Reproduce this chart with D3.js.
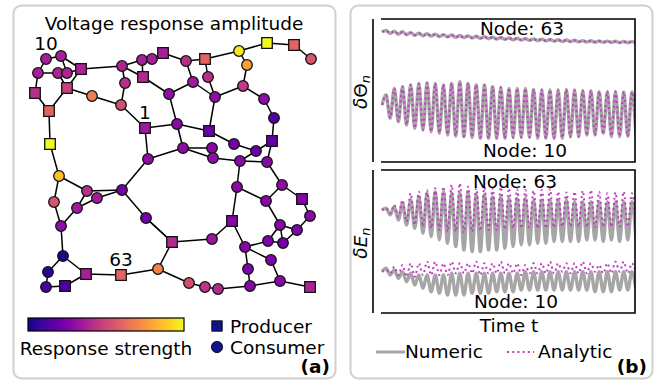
<!DOCTYPE html>
<html>
<head>
<meta charset="utf-8">
<script src="https://cdn.jsdelivr.net/npm/d3@7/dist/d3.min.js"></script>
<style>
  html, body { margin: 0; padding: 0; background: #fff; }
  svg { display: block; font-family: "DejaVu Sans", sans-serif; }
</style>
</head>
<body>
<svg id="fig" width="665" height="382"></svg>
<script>
// ---------- (a) grid network ----------
const nodeIds = ["10","b","c","d","e","f","g","h","i","j","k","l","m","n","o","p","q","r","s","1",
  "t","u","v","w","x","y","z","aa","ab","ac","ad","ae","af","ag","ah","ai","aj","ak","al","am",
  "an","ao","ap","aq","ar","as","at","au","av","aw","ax","ay","az","ba","bb","bc","bd","be","bf","bg",
  "bh","bi","bj","bk","bl","bm","bn","63","bo","bp","bq","br","bs","bt","bu","bv","bw","bx","by","bz"];
const nodeX = [46,61,38,58,67,81,35,67,92,49,50,59,122,142,152,163,143,125,121,145,
  186,205,208,193,169,215,239,267,294,311,247,243,264,274,272,177,209,234,256,183,
  212,213,240,267,148,237,282,266,302,310,232,280,297,268,283,271,245,248,250,280,
  310,212,172,158,189,205,218,121,86,65,46,48,63,61,77,54,87,97,122,146];
const nodeY = [59,56,73,73,73,69,93,88,96,111,144,176,66,60,59,53,77,83,105,128,
  61,59,77,82,94,97,51,43,45,59,65,86,99,118,141,124,131,144,151,148,
  148,158,161,162,159,187,185,201,199,216,221,225,230,241,243,260,247,269,286,281,
  287,239,242,269,283,287,289,275,274,286,287,272,256,226,208,202,191,198,190,218];
// P = producer (square), C = consumer (circle)
const nodeKind = ["C","C","C","C","C","P","P","P","C","P","P","C","C","C","C","P","P","C","C","P",
  "C","P","C","C","C","C","C","P","P","C","C","C","C","C","P","C","P","C","C","C",
  "C","C","C","C","C","C","C","C","P","C","P","C","C","C","C","C","C","C","C","C",
  "P","C","P","C","C","C","C","P","P","P","C","C","C","C","C","C","C","C","C","C"];
const nodeResponse = [0.36,0.36,0.36,0.38,0.38,0.38,0.42,0.48,0.68,0.60,1.00,0.86,0.38,0.36,0.36,0.36,0.40,0.42,0.53,0.34,
  0.42,0.60,0.42,0.34,0.30,0.30,0.96,1.00,0.60,0.55,0.78,0.45,0.30,0.14,0.18,0.28,0.20,0.22,0.20,0.30,
  0.28,0.30,0.28,0.28,0.30,0.28,0.30,0.28,0.26,0.28,0.28,0.27,0.25,0.25,0.22,0.25,0.27,0.25,0.27,0.28,
  0.38,0.33,0.40,0.70,0.53,0.44,0.40,0.60,0.36,0.12,0.10,0.05,0.02,0.30,0.34,0.55,0.42,0.35,0.22,0.22];
const labelledNodes = ["10","1","63"];
const lines = [
  ["10","b"],["10","c"],["b","f"],["b","e"],["c","d"],["d","e"],["e","f"],["c","g"],["d","h"],["f","h"],
  ["g","j"],["h","j"],["h","i"],["f","m"],["j","k"],["k","l"],
  ["m","n"],["m","q"],["m","r"],["n","o"],["n","q"],["o","p"],["p","t"],["t","u"],["r","s"],["i","s"],
  ["s","1"],["q","x"],["t","w"],["w","x"],["w","y"],["u","v"],["v","y"],["u","z"],["z","aa"],["aa","ab"],
  ["ab","ac"],["z","ad"],["ad","ae"],["ae","y"],["ae","af"],["af","ag"],["ag","ah"],
  ["1","ai"],["1","ar"],["x","ai"],["ai","aj"],["ai","am"],["y","aj"],["aj","ak"],["ak","al"],["al","ah"],
  ["ah","aq"],["al","ap"],["am","an"],["am","ao"],["an","ao"],["ao","ap"],["ap","aq"],["ar","am"],
  ["ap","as"],["aq","at"],["as","au"],["at","au"],["at","av"],["av","aw"],["aw","az"],["au","ay"],
  ["ay","az"],["ay","ba"],["ay","bb"],["az","bb"],["ba","bb"],["as","ax"],["ax","bi"],["ax","bd"],
  ["bd","ba"],["bd","bc"],["bc","bg"],["bd","be"],["be","bf"],["bf","bg"],["bg","bh"],["bf","bn"],
  ["bi","bj"],["bj","bk"],["bj","bz"],["bk","bl"],["bl","bm"],["bm","bn"],["bk","63"],["63","bo"],
  ["bo","bp"],["bp","bq"],["bq","br"],["br","bs"],["bs","bo"],["bs","bt"],["bt","bv"],["bv","l"],
  ["bt","bu"],["bu","bw"],["bu","bx"],["bw","l"],["bw","by"],["bx","by"],["by","ar"],["by","bz"],["bz","bj"]
];

// ---------- (b) time series: start value, then alternating maxima / minima ----------
const seriesStart = { theta63: 8.20, theta10: -2.03, e63: 4.41, e10: -4.22 };

const theta63NumTops = [8.40,8.30,8.22,8.10,8.02,7.95,7.88,7.82,7.76,7.70,7.64,7.58,7.52,7.47,7.42,7.36,7.30,7.26,7.22,7.18,7.14,7.10,7.06,7.02,6.98,6.95,6.92,6.90,6.88,6.86,6.84];
const theta63NumBottoms = [7.98,7.85,7.80,7.72,7.65,7.60,7.55,7.50,7.44,7.40,7.35,7.30,7.24,7.20,7.15,7.10,7.06,7.02,6.98,6.94,6.90,6.86,6.84,6.80,6.78,6.76,6.74,6.72,6.70,6.68,6.67];
const theta63AnaTops = [8.35,8.28,8.18,8.08,8.00,7.92,7.86,7.80,7.74,7.68,7.62,7.56,7.50,7.45,7.40,7.34,7.29,7.24,7.20,7.16,7.12,7.08,7.04,7.00,6.97,6.94,6.91,6.89,6.87,6.85,6.83];
const theta63AnaBottoms = [8.02,7.90,7.82,7.74,7.68,7.62,7.56,7.50,7.45,7.40,7.36,7.31,7.26,7.21,7.16,7.11,7.07,7.03,6.99,6.95,6.91,6.88,6.85,6.82,6.79,6.77,6.75,6.73,6.71,6.69,6.68];

const theta10NumTops = [-0.63,0.30,0.53,0.77,1.00,1.09,1.00,0.77,1.00,1.23,1.00,0.77,0.77,0.53,0.44,0.30,0.30,0.30,0.16,0.07,0.07,0.07,0.16,0.07,-0.03,-0.03,-0.16,-0.16,-0.16,-0.20,-0.20];
const theta10NumBottoms = [-3.89,-4.36,-4.83,-5.29,-5.52,-5.76,-5.99,-6.22,-6.36,-6.46,-6.55,-6.69,-6.69,-6.69,-6.69,-6.55,-6.55,-6.55,-6.69,-6.69,-6.69,-6.69,-6.46,-6.46,-6.22,-6.22,-5.99,-6.46,-6.46,-6.40,-6.40];
const theta10AnaTops = [-0.70,0.25,0.55,0.80,0.95,1.05,1.00,0.85,0.95,1.15,1.00,0.80,0.75,0.55,0.45,0.35,0.30,0.28,0.18,0.10,0.08,0.08,0.12,0.05,0.00,-0.05,-0.12,-0.15,-0.15,-0.18,-0.18];
const theta10AnaBottoms = [-3.80,-4.30,-4.80,-5.25,-5.50,-5.75,-5.95,-6.15,-6.30,-6.40,-6.50,-6.60,-6.65,-6.65,-6.65,-6.60,-6.55,-6.55,-6.60,-6.65,-6.65,-6.62,-6.50,-6.45,-6.30,-6.25,-6.10,-6.35,-6.40,-6.38,-6.38];

const e63NumTops = [4.64,4.87,5.34,5.80,6.27,6.74,6.97,6.97,6.74,6.74,6.74,6.50,6.50,6.27,6.27,6.04,6.04,6.04,5.80,5.80,5.80,5.80,5.80,5.57,5.57,5.57,5.57,5.57,5.57,5.57,5.57];
const e63NumBottoms = [3.71,3.01,2.31,1.84,1.15,0.68,0.21,-0.26,-0.72,-1.19,-1.42,-1.42,-1.19,-1.19,-0.96,-0.72,-0.49,-0.49,-0.26,-0.26,-0.02,-0.02,-0.02,-0.02,0.20,0.20,-0.02,0.20,-0.02,0.20,0.20];
const e63AnaTops = [4.64,5.10,5.80,6.74,6.97,7.20,7.44,7.67,7.90,8.14,7.67,7.44,7.55,7.44,7.60,7.44,7.30,7.20,7.10,7.20,7.35,6.97,6.85,6.97,7.10,7.20,6.97,6.74,6.85,6.97,6.74];
const e63AnaBottoms = [3.94,3.47,2.77,2.31,2.07,1.84,1.61,1.37,1.37,1.25,1.37,1.50,1.61,1.61,1.70,1.84,1.84,1.95,1.84,1.84,1.95,2.07,2.07,2.07,2.00,1.95,2.07,2.07,2.07,2.07,2.07];

const e10NumTops = [-3.75,-3.99,-4.22,-4.45,-4.69,-4.69,-4.69,-4.69,-4.45,-4.45,-4.45,-4.45,-4.45,-4.45,-4.45,-4.45,-4.45,-4.22,-4.22,-4.22,-4.22,-4.22,-4.22,-4.22,-4.22,-4.22,-4.22,-4.22,-4.22,-4.22,-4.22];
const e10NumBottoms = [-4.69,-5.15,-5.62,-6.08,-6.55,-7.02,-7.25,-7.48,-7.48,-7.48,-7.25,-7.25,-7.25,-7.02,-7.02,-7.02,-6.78,-6.78,-6.78,-6.78,-6.78,-6.78,-6.78,-6.78,-6.78,-7.02,-7.02,-7.02,-6.78,-6.78,-6.78];
const e10AnaTops = [-3.99,-3.52,-3.29,-3.05,-3.05,-2.82,-2.82,-3.05,-2.82,-3.05,-3.05,-2.82,-3.05,-3.05,-2.82,-3.05,-3.05,-3.29,-3.05,-3.05,-2.82,-3.05,-3.05,-3.05,-2.82,-3.05,-3.29,-3.05,-2.82,-2.82,-3.05];
const e10AnaBottoms = [-4.45,-4.69,-4.92,-4.92,-4.69,-4.69,-4.69,-4.69,-4.45,-4.45,-4.45,-4.69,-4.45,-4.45,-4.45,-4.45,-4.69,-4.45,-4.45,-4.45,-4.45,-4.22,-4.45,-4.45,-4.45,-4.22,-4.45,-4.45,-4.22,-4.45,-4.45];

const legendLabels = ["Numeric", "Analytic"];

// ---------------------------------------------------------------
const svg = d3.select("#fig");
const FONT = 18.5;
const numericColor = "#a6a6a6";
const analyticColor = "#c03cc0";

// panel frames
[[13.5, 5.5, 322, 373], [350.5, 5.5, 302, 373]].forEach(([x, y, w, h]) => {
  svg.append("rect").attr("x", x).attr("y", y).attr("width", w).attr("height", h)
    .attr("rx", 8).attr("fill", "#fff").attr("stroke", "#cfcfcf").attr("stroke-width", 2);
});

// ---- panel (a)
const xNet = d3.scaleLinear().domain(d3.extent(nodeX)).range([35, 311]);
const yNet = d3.scaleLinear().domain(d3.extent(nodeY)).range([43, 289]);
const color = d3.scaleSequential(d3.interpolatePlasma).domain([0, 1]);
const nodes = nodeIds.map((id, i) => ({ id, x: nodeX[i], y: nodeY[i], kind: nodeKind[i], r: nodeResponse[i] }));
const byId = new Map(nodes.map(n => [n.id, n]));

svg.append("text").attr("x", 174).attr("y", 30).attr("text-anchor", "middle")
  .attr("font-size", FONT).text("Voltage response amplitude");

const gNet = svg.append("g");
gNet.selectAll("line.edge").data(lines).join("line").attr("class", "edge")
  .attr("x1", d => xNet(byId.get(d[0]).x)).attr("y1", d => yNet(byId.get(d[0]).y))
  .attr("x2", d => xNet(byId.get(d[1]).x)).attr("y2", d => yNet(byId.get(d[1]).y))
  .attr("stroke", "#000").attr("stroke-width", 1.5);

const sym = d3.symbol().type(d => d.kind === "P" ? d3.symbolSquare : d3.symbolCircle)
  .size(d => d.kind === "P" ? 112 : 88);
gNet.selectAll("path.node").data(nodes).join("path").attr("class", "node")
  .attr("transform", d => `translate(${xNet(d.x)},${yNet(d.y)})`)
  .attr("d", sym).attr("fill", d => color(d.r))
  .attr("stroke", "#111").attr("stroke-width", 1.3);

gNet.selectAll("text.nlab").data(nodes.filter(n => labelledNodes.includes(n.id))).join("text")
  .attr("class", "nlab").attr("x", d => xNet(d.x)).attr("y", d => yNet(d.y) - 9)
  .attr("text-anchor", "middle").attr("font-size", FONT).text(d => d.id);

// colour bar
const defs = svg.append("defs");
const grad = defs.append("linearGradient").attr("id", "plasmaGrad");
d3.range(0, 1.0001, 0.05).forEach(t => grad.append("stop").attr("offset", t).attr("stop-color", color(t)));
const cbar = d3.scaleLinear().domain([0, 1]).range([28, 184]);
svg.append("rect").attr("x", cbar(0)).attr("y", 318).attr("width", cbar(1) - cbar(0)).attr("height", 13)
  .attr("fill", "url(#plasmaGrad)").attr("stroke", "#000").attr("stroke-width", 1.2);
svg.append("text").attr("x", 106).attr("y", 355).attr("text-anchor", "middle")
  .attr("font-size", FONT).text("Response strength");

// marker legend
svg.append("path").attr("transform", "translate(217,326)")
  .attr("d", d3.symbol().type(d3.symbolSquare).size(110)()).attr("fill", "#12128c").attr("stroke", "#000").attr("stroke-width", 0.8);
svg.append("path").attr("transform", "translate(217,347)")
  .attr("d", d3.symbol().type(d3.symbolCircle).size(100)()).attr("fill", "#12128c").attr("stroke", "#000").attr("stroke-width", 0.8);
svg.append("text").attr("x", 230).attr("y", 333).attr("font-size", FONT).text("Producer");
svg.append("text").attr("x", 230).attr("y", 354).attr("font-size", FONT).text("Consumer");
svg.append("text").attr("x", 330).attr("y", 373).attr("text-anchor", "end")
  .attr("font-size", FONT).attr("font-weight", "bold").text("(a)");

// ---- panel (b)
const nSteps = 2 * theta63NumTops.length;
const x = d3.scaleLinear().domain([0, nSteps]).range([382, 636]);
const axesBoxes = [{ top: 19, bottom: 162 }, { top: 170, bottom: 313 }];
const yScales = axesBoxes.map(b => d3.scaleLinear().domain([-10, 10]).range([b.bottom, b.top]));

function buildSeries(start, tops, bottoms) {
  const pts = [[0, start]];
  tops.forEach((v, k) => {
    pts.push([2 * k + 1, v]);
    pts.push([2 * k + 2, bottoms[k]]);
  });
  return pts;
}

const panels = [
  { box: axesBoxes[0], y: yScales[0], series: [
      { kind: "num", pts: buildSeries(seriesStart.theta63, theta63NumTops, theta63NumBottoms) },
      { kind: "num", pts: buildSeries(seriesStart.theta10, theta10NumTops, theta10NumBottoms) },
      { kind: "ana", pts: buildSeries(seriesStart.theta63, theta63AnaTops, theta63AnaBottoms) },
      { kind: "ana", pts: buildSeries(seriesStart.theta10, theta10AnaTops, theta10AnaBottoms) } ] },
  { box: axesBoxes[1], y: yScales[1], series: [
      { kind: "num", pts: buildSeries(seriesStart.e63, e63NumTops, e63NumBottoms) },
      { kind: "num", pts: buildSeries(seriesStart.e10, e10NumTops, e10NumBottoms) },
      { kind: "ana", pts: buildSeries(seriesStart.e63, e63AnaTops, e63AnaBottoms) },
      { kind: "ana", pts: buildSeries(seriesStart.e10, e10AnaTops, e10AnaBottoms) } ] }
];

panels.forEach((p, pi) => {
  const clipId = "clipAx" + pi;
  defs.append("clipPath").attr("id", clipId).append("rect")
    .attr("x", x.range()[0] - 1).attr("y", p.box.top).attr("width", 635 - x.range()[0] + 1)
    .attr("height", p.box.bottom - p.box.top);
  const line = d3.line().x(d => x(d[0])).y(d => p.y(d[1])).curve(d3.curveMonotoneX);
  const g = svg.append("g").attr("clip-path", `url(#${clipId})`);
  p.series.forEach(s => {
    g.append("path").attr("d", line(s.pts)).attr("fill", "none")
      .attr("stroke", s.kind === "num" ? numericColor : analyticColor)
      .attr("stroke-width", s.kind === "num" ? 3.4 : 2)
      .attr("stroke-dasharray", s.kind === "num" ? null : "2,3.2");
  });
  // box (top/right/bottom) and offset left spine
  svg.append("path").attr("d", `M381,${p.box.top}H635V${p.box.bottom}H381`)
    .attr("fill", "none").attr("stroke", "#000").attr("stroke-width", 1.6);
  svg.append("line").attr("x1", 373).attr("x2", 373).attr("y1", p.box.top).attr("y2", p.box.bottom)
    .attr("stroke", "#000").attr("stroke-width", 1.6);
});

// node annotations
[[522, 35, "Node: 63"], [525, 157, "Node: 10"], [515, 188, "Node: 63"], [516, 308, "Node: 10"]]
  .forEach(([tx, ty, s]) => svg.append("text").attr("x", tx).attr("y", ty).attr("text-anchor", "middle")
    .attr("font-size", FONT).text(s));

// y labels
const yl1 = svg.append("text").attr("transform", "translate(367,92) rotate(-90)")
  .attr("text-anchor", "middle").attr("font-size", FONT);
yl1.append("tspan").attr("font-style", "italic").text("δ");
yl1.append("tspan").text("Θ");
yl1.append("tspan").attr("font-style", "italic").attr("font-size", 13).attr("dy", 3).text("n");
const yl2 = svg.append("text").attr("transform", "translate(367,243) rotate(-90)")
  .attr("text-anchor", "middle").attr("font-size", FONT);
yl2.append("tspan").attr("font-style", "italic").text("δE");
yl2.append("tspan").attr("font-style", "italic").attr("font-size", 13).attr("dy", 3).text("n");

svg.append("text").attr("x", 509).attr("y", 332).attr("text-anchor", "middle")
  .attr("font-size", FONT).text("Time t");

// legend
svg.append("line").attr("x1", 376).attr("x2", 405).attr("y1", 352).attr("y2", 352)
  .attr("stroke", numericColor).attr("stroke-width", 3);
svg.append("text").attr("x", 405).attr("y", 358).attr("font-size", FONT).text(legendLabels[0]);
svg.append("line").attr("x1", 507).attr("x2", 534).attr("y1", 352).attr("y2", 352)
  .attr("stroke", analyticColor).attr("stroke-width", 2).attr("stroke-dasharray", "2,3.2");
svg.append("text").attr("x", 538).attr("y", 358).attr("font-size", FONT).text(legendLabels[1]);
svg.append("text").attr("x", 647).attr("y", 373).attr("text-anchor", "end")
  .attr("font-size", FONT).attr("font-weight", "bold").text("(b)");
</script>
</body>
</html>
